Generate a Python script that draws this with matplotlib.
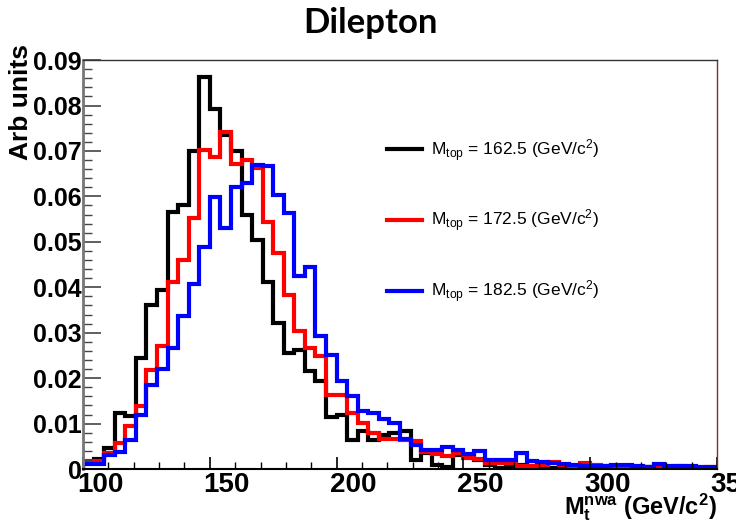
import numpy as np
import matplotlib
matplotlib.use("Agg")
import matplotlib.pyplot as plt
import matplotlib.transforms as mtransforms
from matplotlib.ticker import MultipleLocator
from matplotlib.lines import Line2D

# binning: 60 bins from 100 to 350 GeV/c^2
bin_edges = np.linspace(100, 350, 61)

m162 = [0.0015, 0.0022, 0.0046, 0.0123, 0.0117, 0.0244, 0.0361, 0.0393, 0.0566, 0.0581,
        0.0700, 0.0862, 0.0793, 0.0735, 0.0700, 0.0559, 0.0504, 0.0412, 0.0321, 0.0256,
        0.0262, 0.0215, 0.0193, 0.0114, 0.0119, 0.0064, 0.0083, 0.0064, 0.0075, 0.0080,
        0.0083, 0.0020, 0.0035, 0.0009, 0.0005, 0.0030, 0.0030, 0.0020, 0.0009, 0.0003,
        0.0004, 0.0008, 0.0006, 0.0005, 0.0003, 0.0005, 0.0006, 0.0004, 0.0003, 0.0005,
        0.0004, 0.0006, 0.0003, 0.0004, 0.0005, 0.0004, 0.0003, 0.0004, 0.0003, 0.0002]

m172 = [0.0017, 0.0018, 0.0035, 0.0057, 0.0094, 0.0138, 0.0218, 0.0270, 0.0412, 0.0460,
        0.0552, 0.0703, 0.0687, 0.0742, 0.0672, 0.0680, 0.0662, 0.0544, 0.0476, 0.0383,
        0.0303, 0.0266, 0.0248, 0.0163, 0.0163, 0.0123, 0.0101, 0.0079, 0.0066, 0.0066,
        0.0064, 0.0061, 0.0037, 0.0032, 0.0028, 0.0035, 0.0025, 0.0022, 0.0013, 0.0013,
        0.0013, 0.0006, 0.0006, 0.0008, 0.0015, 0.0009, 0.0007, 0.0013, 0.0008, 0.0006,
        0.0005, 0.0006, 0.0004, 0.0005, 0.0007, 0.0004, 0.0006, 0.0004, 0.0003, 0.0004]

m182 = [0.0010, 0.0012, 0.0031, 0.0037, 0.0064, 0.0119, 0.0185, 0.0220, 0.0266, 0.0337,
        0.0407, 0.0489, 0.0598, 0.0530, 0.0621, 0.0629, 0.0669, 0.0667, 0.0603, 0.0563,
        0.0425, 0.0444, 0.0293, 0.0251, 0.0193, 0.0160, 0.0127, 0.0123, 0.0110, 0.0101,
        0.0066, 0.0052, 0.0042, 0.0042, 0.0048, 0.0042, 0.0034, 0.0039, 0.0020, 0.0020,
        0.0020, 0.0035, 0.0017, 0.0015, 0.0013, 0.0010, 0.0008, 0.0007, 0.0006, 0.0007,
        0.0008, 0.0008, 0.0006, 0.0005, 0.0011, 0.0007, 0.0006, 0.0006, 0.0005, 0.0005]

labels = ["162.5", "172.5", "182.5"]
colors = ["black", "red", "blue"]

plt.rcParams['font.family'] = ['Liberation Sans', 'DejaVu Sans']
plt.rcParams['mathtext.fontset'] = 'custom'
plt.rcParams['mathtext.rm'] = 'Liberation Sans'
plt.rcParams['mathtext.it'] = 'Liberation Sans'
plt.rcParams['mathtext.bf'] = 'Liberation Sans:bold'

fig = plt.figure(figsize=(7.36, 5.27), dpi=100)
ax = fig.add_axes([0.1128, 0.110, 0.8614, 0.776])

for vals, c in zip([m162, m172, m182], colors):
    ax.stairs(vals, bin_edges, color=c, linewidth=3)

ax.set_xlim(100, 350)
ax.set_ylim(0, 0.09)

ax.xaxis.set_major_locator(MultipleLocator(50))
ax.xaxis.set_minor_locator(MultipleLocator(10))
ax.yaxis.set_minor_locator(MultipleLocator(0.002))
ax.set_yticks(np.arange(0, 0.0901, 0.01))
ax.set_yticklabels(["0"] + ["%.2f" % v for v in np.arange(0.01, 0.0901, 0.01)])

ax.tick_params(axis='y', which='major', direction='in', length=13, width=1.2,
               labelsize=18, pad=1, color='#444444')
ax.tick_params(axis='y', which='minor', direction='in', length=6.5, width=1.0, color='#444444')
ax.tick_params(axis='x', which='major', direction='in', length=8.5, width=1.2,
               labelsize=20, pad=2)
ax.tick_params(axis='x', which='minor', direction='in', length=4.7, width=1.0)
for lab in ax.get_xticklabels() + ax.get_yticklabels():
    lab.set_fontweight('bold')

# x tick labels sit a bit right of their ticks in the original
shift = mtransforms.ScaledTranslation(0.17, 0, fig.dpi_scale_trans)
for lab in ax.get_xticklabels():
    lab.set_transform(lab.get_transform() + shift)

ax.spines['left'].set_color('#777777')
ax.spines['left'].set_linewidth(2)
ax.spines['bottom'].set_linewidth(1.5)
ax.spines['top'].set_linewidth(1.0)
ax.spines['top'].set_color('#333333')
ax.spines['right'].set_linewidth(1.0)
ax.spines['right'].set_color('#7a3030')

ax.set_ylabel("Arb units", fontsize=19, fontweight='bold')
ax.yaxis.set_label_coords(-0.079, 1.04)
ax.yaxis.label.set_horizontalalignment('right')
ax.set_xlabel(r"$\mathbf{M_{t}^{nwa}}$ (GeV/c$^{\mathbf{2}}$)", fontsize=17, fontweight='bold')
ax.xaxis.set_label_coords(1.0, -0.055)
ax.xaxis.label.set_horizontalalignment('right')

handles = [Line2D([], [], color=c, linewidth=3) for c in colors]
leg_labels = [r"M$_{\mathrm{top}}$ = %s (GeV/c$^{2}$)" % l for l in labels]
ax.legend(handles, leg_labels, loc='upper left', bbox_to_anchor=(0.455, 0.85),
          frameon=False, fontsize=12.5, handlelength=2.0, labelspacing=2.55,
          handletextpad=0.5)

fig.text(0.503, 0.957, "Dilepton", fontsize=25, fontweight='bold',
         family=['Lato', 'DejaVu Sans'], ha='center', va='center')

fig.savefig("out.png", dpi=100)
